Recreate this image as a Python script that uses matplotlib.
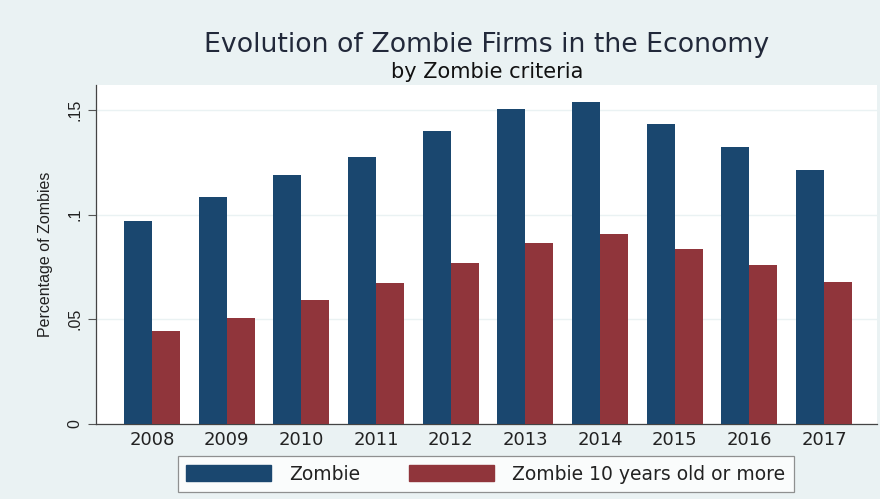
import matplotlib
matplotlib.use("Agg")
import matplotlib.pyplot as plt
import numpy as np
from matplotlib.patches import Patch

plt.rcParams['font.family'] = ['DejaVu Sans']

years = ["2008", "2009", "2010", "2011", "2012", "2013", "2014", "2015", "2016", "2017"]
zombie = [0.0970, 0.1084, 0.1189, 0.1275, 0.1400, 0.1505, 0.1537, 0.1432, 0.1322, 0.1215]
zombie10 = [0.0444, 0.0506, 0.0592, 0.0674, 0.0769, 0.0865, 0.0908, 0.0837, 0.0761, 0.0678]
yticks = [0, 0.05, 0.1, 0.15]
ytick_labels = ["0", ".05", ".1", ".15"]

blue = "#1A476F"
red = "#90353B"
bg = "#EAF2F3"
narrow = ['Liberation Sans', 'DejaVu Sans']

W, H = 880, 499
fig = plt.figure(figsize=(W / 100, H / 100), dpi=100, facecolor=bg)
ax = fig.add_axes([96 / W, 1 - 424 / H, (877 - 96) / W, (424 - 85) / H])
ax.set_facecolor("white")

x = np.arange(len(years))
bw = 0.375
ax.bar(x - bw / 2, zombie, width=bw, color=blue, zorder=3)
ax.bar(x + bw / 2, zombie10, width=bw, color=red, zorder=3)

ax.set_xlim(-0.75, len(years) - 1 + 0.71)
ax.set_ylim(0, 0.1619)
ax.set_yticks(yticks)
ax.set_yticklabels(ytick_labels, rotation=90, va="center", fontsize=11.5,
                   color="#222222", family=narrow)
ax.set_xticks(x)
ax.set_xticklabels(years, fontsize=13, color="#222222")
ax.tick_params(axis="x", length=0, pad=5)
ax.tick_params(axis="y", length=6, width=0.8, color="#555555", pad=4)
ax.grid(axis="y", color=bg, linewidth=1.0, zorder=0)
for s in ["top", "right"]:
    ax.spines[s].set_visible(False)
for s in ["left", "bottom"]:
    ax.spines[s].set_color("#444444")
    ax.spines[s].set_linewidth(0.9)

ax.set_ylabel("Percentage of Zombies", fontsize=11.5, color="#222222",
              labelpad=10, family=narrow)

fig.text(487 / W, 1 - 45 / H, "Evolution of Zombie Firms in the Economy",
         ha="center", va="center", fontsize=19.3, color="#22293A")
fig.text(487 / W, 1 - 72 / H, "by Zombie criteria",
         ha="center", va="center", fontsize=15, color="#111111")

handles = [Patch(facecolor=blue, edgecolor=blue), Patch(facecolor=red, edgecolor=red)]
leg = fig.legend(handles, ["Zombie", "Zombie 10 years old or more"],
                 loc="center", bbox_to_anchor=(486 / W, 1 - 474 / H), ncol=2,
                 fontsize=13.5, frameon=True, fancybox=False,
                 handlelength=4.5, handleheight=0.9, columnspacing=2.6,
                 handletextpad=1.0, borderpad=0.45, borderaxespad=0)
leg.get_frame().set_edgecolor("#777777")
leg.get_frame().set_linewidth(0.9)
leg.get_frame().set_facecolor("white")
for t in leg.get_texts():
    t.set_color("#222222")

fig.savefig("out.png", dpi=100, facecolor=bg)
